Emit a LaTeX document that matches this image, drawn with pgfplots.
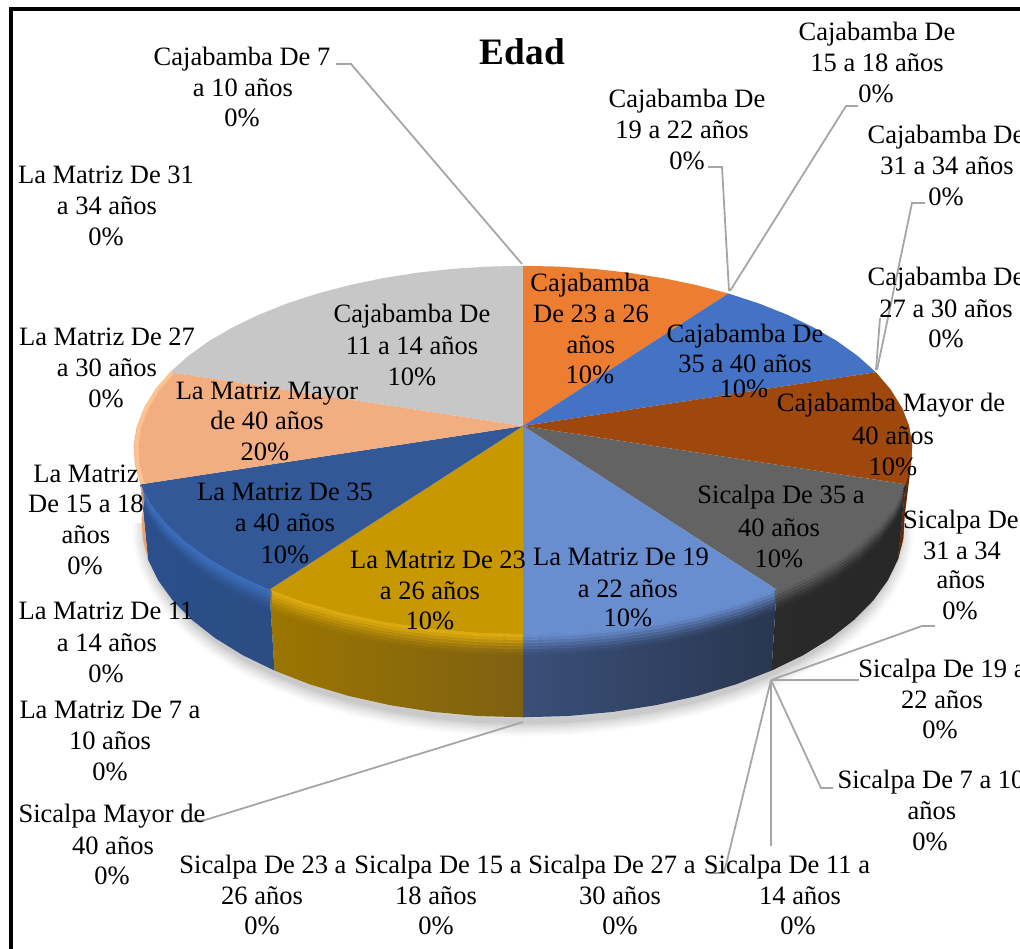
\documentclass[border=0pt]{standalone}
\usepackage{fontspec}
\setmainfont{Liberation Serif}
\usepackage{pgfplots}
\usepackage{pgfplotstable}
\pgfplotsset{compat=1.18}
\definecolor{cOr}{HTML}{ED7D31}
\definecolor{cBl}{HTML}{4472C4}
\definecolor{cBr}{HTML}{9E480E}
\definecolor{cGy}{HTML}{636363}
\definecolor{cLb}{HTML}{698ED0}
\definecolor{cGo}{HTML}{C89800}
\definecolor{cDb}{HTML}{325897}
\definecolor{cLo}{HTML}{F2AE80}
\definecolor{cLg}{HTML}{C7C7C7}
\definecolor{cLead}{HTML}{A6A6A6}
\definecolor{sBrA}{HTML}{7A3A10}
\definecolor{sBrB}{HTML}{5E2A08}
\definecolor{sGyA}{HTML}{2A2A2A}
\definecolor{sGyB}{HTML}{272727}
\definecolor{sLbA}{HTML}{3A4F78}
\definecolor{sLbB}{HTML}{293650}
\definecolor{sGoA}{HTML}{9C7600}
\definecolor{sGoB}{HTML}{7E6012}
\definecolor{sDbA}{HTML}{2A4F8C}
\definecolor{sDbB}{HTML}{2C4D82}
\definecolor{sLoA}{HTML}{F0A878}
\definecolor{sLoB}{HTML}{E8A070}
\definecolor{hGo}{HTML}{E0AE10}
\definecolor{hDb}{HTML}{3E70C0}
\definecolor{hLb}{HTML}{698ED0}
\definecolor{hGy}{HTML}{666666}
\definecolor{hBr}{HTML}{A5500F}
\definecolor{hLo}{HTML}{FFC793}
% top-face rims (x y in image pixels)
\pgfplotstableread{
x y
523 265.8
558.7 266.6
594.2 268.9
629.2 272.8
663.3 278.2
696.5 285.1
728.3 293.5
}\rimOr
\pgfplotstableread{
x y
728.3 293.5
758.5 303.3
786.9 314.6
813.1 327.2
836.9 341.0
857.9 356.1
875.9 372.2
}\rimBl
\pgfplotstableread{
x y
875.9 372.2
890.6 389.4
901.7 407.3
909 426
912.2 445.2
911 464.7
905.5 484.3
}\rimBr
\pgfplotstableread{
x y
905.5 484.3
895.3 503.7
880.5 522.8
861.1 541.2
837.2 558.7
808.9 574.9
776.6 589.6
}\rimGy
\pgfplotstableread{
x y
776.6 589.6
740.5 602.6
701.1 613.6
659.1 622.4
614.9 628.8
569.3 632.7
523 634
}\rimLb
\pgfplotstableread{
x y
523 634
476.7 632.7
431.1 628.8
386.9 622.4
344.9 613.6
305.5 602.6
269.4 589.6
}\rimGo
\pgfplotstableread{
x y
269.4 589.6
237.1 574.9
208.8 558.7
184.9 541.2
165.5 522.8
150.7 503.7
140.5 484.3
}\rimDb
\pgfplotstableread{
x y
140.5 484.3
135 464.7
133.8 445.2
137 426
144.3 407.3
155.4 389.4
170.1 372.2
}\rimLo
\pgfplotstableread{
x y
170.1 372.2
188.1 356.1
209.1 341
232.9 327.2
259.1 314.6
287.5 303.3
317.7 293.5
349.5 285.1
382.7 278.2
416.8 272.8
451.8 268.9
487.3 266.6
523 265.8
}\rimLg
% lower edge of the pie
\pgfplotstableread{
x y
904.4 518.7
903.2 539.2
897.9 559.8
887.9 580.2
873.4 600.3
854.3 619.7
830.9 638.1
803.2 655.2
771.5 670.6
736.2 684.3
697.5 695.9
656.4 705.1
613.1 711.9
568.4 716
523 717.3
477.6 716
432.9 711.9
389.6 705.1
348.5 695.9
309.8 684.3
274.5 670.6
242.8 655.2
215.1 638.1
191.7 619.7
172.6 600.3
158.1 580.2
148.1 559.8
142.8 539.2
141.6 518.7
}\lowEdge
\newcommand{\lab}{\fontsize{26.5}{30.5}\selectfont}
\newcommand{\tl}[3]{\node[anchor=base,inner sep=0pt,font=\lab,text=black] at (axis cs:#1,{#2+1}) {#3};}
\newcommand{\face}[2]{\addplot[fill=#1,draw=none,forget plot] table[x=x,y=y] {#2} -- (axis cs:523,426) -- cycle;}
% one bevel layer: colour, rim, downward shift, opacity
\newcommand{\bl}[4]{\addplot[draw=#1,opacity=#4,line width=3.4pt,forget plot] table[x expr={523+(\thisrow{x}-523)*0.992},y expr={\thisrow{y}+#3}] {#2};}
\newcommand{\bev}[2]{%
 \bl{#1}{#2}{1.5}{.95}
 \bl{#1}{#2}{4.5}{.80}
 \bl{#1}{#2}{7.5}{.62}
 \bl{#1}{#2}{10.5}{.45}
 \bl{#1}{#2}{13.5}{.30}
 \bl{#1}{#2}{16.5}{.16}
 \bl{#1}{#2}{19.5}{.07}}
\newcommand{\shd}[2]{\addplot[draw=black,opacity=#2,line width=#1pt,forget plot] table[x expr={523+(\thisrow{x}-523)*0.985},y expr={\thisrow{y}+4}] {\lowEdge};}
\newcommand{\lead}[1]{\addplot[draw=cLead,line width=1.8pt,forget plot] coordinates {#1};}
\begin{document}
\begin{tikzpicture}[x=1pt,y=1pt]
\path[use as bounding box,clip] (0,0) rectangle (1020pt,949pt);
\begin{axis}[at={(0,0)},anchor=south west,width=1020pt,height=949pt,scale only axis,
  xmin=0,xmax=1020,ymin=0,ymax=949,y dir=reverse,hide axis,clip=false,no markers]
% frame
\addplot[draw=black,line width=4pt,forget plot] coordinates {(11,960) (11,9.5) (1030,9.5)};
% shadow
\shd{30}{.018}
\shd{26}{.022}
\shd{22}{.026}
\shd{18}{.03}
\shd{14}{.035}
\shd{10}{.04}
\shd{6}{.05}
% side walls
\addplot[draw=none,left color=sBrA,right color=sBrB,forget plot] coordinates {(901.7,407.3) (909,426) (912.2,445.2) (911,464.7) (905.5,484.3) (897.9,559.8) (903.2,539.2) (904.4,518.7) (901.3,498.5)} -- cycle;
\addplot[draw=none,fill=sBrB,forget plot] coordinates {(905.5,484.3) (911,464.7) (904.4,518.7) (903.2,539.2) (897.9,559.8)} -- cycle;
\addplot[draw=none,left color=sGyA,right color=sGyB,forget plot] coordinates {(905.5,484.3) (895.3,503.7) (880.5,522.8) (861.1,541.2) (837.2,558.7) (808.9,574.9) (776.6,589.6) (771.5,670.6) (803.2,655.2) (830.9,638.1) (854.3,619.7) (873.4,600.3) (887.9,580.2) (897.9,559.8)} -- cycle;
\addplot[draw=none,left color=sLbA,right color=sLbB,forget plot] coordinates {(776.6,589.6) (740.5,602.6) (701.1,613.6) (659.1,622.4) (614.9,628.8) (569.3,632.7) (523,634) (523,717.3) (568.4,716) (613.1,711.9) (656.4,705.1) (697.5,695.9) (736.2,684.3) (771.5,670.6)} -- cycle;
\addplot[draw=none,left color=sGoA,right color=sGoB,forget plot] coordinates {(523,634) (476.7,632.7) (431.1,628.8) (386.9,622.4) (344.9,613.6) (305.5,602.6) (269.4,589.6) (274.5,670.6) (309.8,684.3) (348.5,695.9) (389.6,705.1) (432.9,711.9) (477.6,716) (523,717.3)} -- cycle;
\addplot[draw=none,left color=sDbA,right color=sDbB,forget plot] coordinates {(269.4,589.6) (237.1,574.9) (208.8,558.7) (184.9,541.2) (165.5,522.8) (150.7,503.7) (140.5,484.3) (148.1,559.8) (158.1,580.2) (172.6,600.3) (191.7,619.7) (215.1,638.1) (242.8,655.2) (274.5,670.6)} -- cycle;
\addplot[draw=none,left color=sLoA,right color=sLoB,forget plot] coordinates {(140.5,484.3) (135,464.7) (133.8,445.2) (137,426) (144.7,498.5) (141.6,518.7) (142.8,539.2) (148.1,559.8)} -- cycle;
% bevel at the top of the walls
\bev{hGy}{\rimGy}
\bev{hLb}{\rimLb}
\bev{hGo}{\rimGo}
\bev{hDb}{\rimDb}
% top faces
\face{cLg}{\rimLg}
\face{cOr}{\rimOr}
\face{cBl}{\rimBl}
\face{cBr}{\rimBr}
\face{cGy}{\rimGy}
\face{cLb}{\rimLb}
\face{cGo}{\rimGo}
\face{cDb}{\rimDb}
\face{cLo}{\rimLo}
\addplot[draw=hLo,line width=4pt,opacity=.8,forget plot] coordinates {(142.5,484) (137.5,464.7) (136.3,445.2) (139.4,426) (146.6,407.3) (157.6,389.4) (172,373)};
% leader lines
\lead{(336,64) (351,64) (522,264)}
\lead{(858,106) (846,106) (730,291)}
\lead{(708,167) (722,167) (729,291)}
\lead{(925,203) (912,203) (877,370)}
\lead{(880,318) (876,370)}
\lead{(935,626) (922,626) (771,680)}
\lead{(859,680) (771,680)}
\lead{(771,680) (821,788) (833,788)}
\lead{(771,680) (771,846)}
\lead{(771,680) (724,873) (708,873)}
\lead{(182,822) (205,820) (523,722)}
% title
\node[anchor=base,inner sep=0pt,font=\fontsize{37.3}{40}\selectfont\bfseries] at (axis cs:522.5,65) {Edad};
% labels on the pie
\tl{590}{291}{Cajabamba}\tl{591}{322}{De 23 a 26}\tl{591}{352}{años}\tl{590}{382}{10\%}
\tl{745}{341}{Cajabamba De}\tl{745}{371}{35 a 40 años}\tl{744}{396}{10\%}
\tl{891}{410}{Cajabamba Mayor de}\tl{893}{443}{40 años}\tl{893}{474}{10\%}
\tl{781}{502}{Sicalpa De 35 a}\tl{779}{535}{40 años}\tl{779}{566}{10\%}
\tl{621}{564}{La Matriz De 19}\tl{628}{596}{a 22 años}\tl{628}{625}{10\%}
\tl{438}{567}{La Matriz De 23}\tl{430}{598}{a 26 años}\tl{430}{628}{10\%}
\tl{285}{499}{La Matriz De 35}\tl{285}{530}{a 40 años}\tl{285}{562}{10\%}
\tl{267}{398}{La Matriz Mayor}\tl{267}{428}{de 40 años}\tl{265}{459}{20\%}
\tl{412}{322}{Cajabamba De}\tl{412}{353}{11 a 14 años}\tl{412}{384}{10\%}
% labels outside
\tl{242}{65}{Cajabamba De 7}\tl{243}{95.5}{a 10 años}\tl{242}{126}{0\%}
\tl{877}{40}{Cajabamba De}\tl{877}{71}{15 a 18 años}\tl{876}{102}{0\%}
\tl{687}{107}{Cajabamba De}\tl{682}{138}{19 a 22 años}\tl{687}{169}{0\%}
\tl{946}{143}{Cajabamba De}\tl{947}{174}{31 a 34 años}\tl{946}{205}{0\%}
\tl{946}{285}{Cajabamba De}\tl{946}{316}{27 a 30 años}\tl{946}{347}{0\%}
\tl{106}{183}{La Matriz De 31}\tl{107}{214}{a 34 años}\tl{106}{245}{0\%}
\tl{107}{344}{La Matriz De 27}\tl{107}{375}{a 30 años}\tl{106}{406}{0\%}
\tl{86}{481}{La Matriz}\tl{86}{511}{De 15 a 18}\tl{86}{542}{años}\tl{85}{573}{0\%}
\tl{106}{618}{La Matriz De 11}\tl{107}{650}{a 14 años}\tl{106}{681}{0\%}
\tl{110}{717}{La Matriz De 7 a}\tl{110}{748}{10 años}\tl{110}{779}{0\%}
\tl{112}{821}{Sicalpa Mayor de}\tl{113}{853}{40 años}\tl{112}{883}{0\%}
\tl{263}{872}{Sicalpa De 23 a}\tl{262}{903}{26 años}\tl{262}{933}{0\%}
\tl{438}{872}{Sicalpa De 15 a}\tl{436}{903}{18 años}\tl{436}{933}{0\%}
\tl{612}{872}{Sicalpa De 27 a}\tl{620}{903}{30 años}\tl{620}{933}{0\%}
\tl{787}{872}{Sicalpa De 11 a}\tl{800}{903}{14 años}\tl{798}{933}{0\%}
\tl{931}{787}{Sicalpa De 7 a 10}\tl{932}{818}{años}\tl{930}{849}{0\%}
\tl{942}{676}{Sicalpa De 19 a}\tl{942}{707}{22 años}\tl{940}{737}{0\%}
\tl{961}{527}{Sicalpa De}\tl{962}{558}{31 a 34}\tl{961}{587}{años}\tl{960}{618}{0\%}
\end{axis}
\end{tikzpicture}
\end{document}
